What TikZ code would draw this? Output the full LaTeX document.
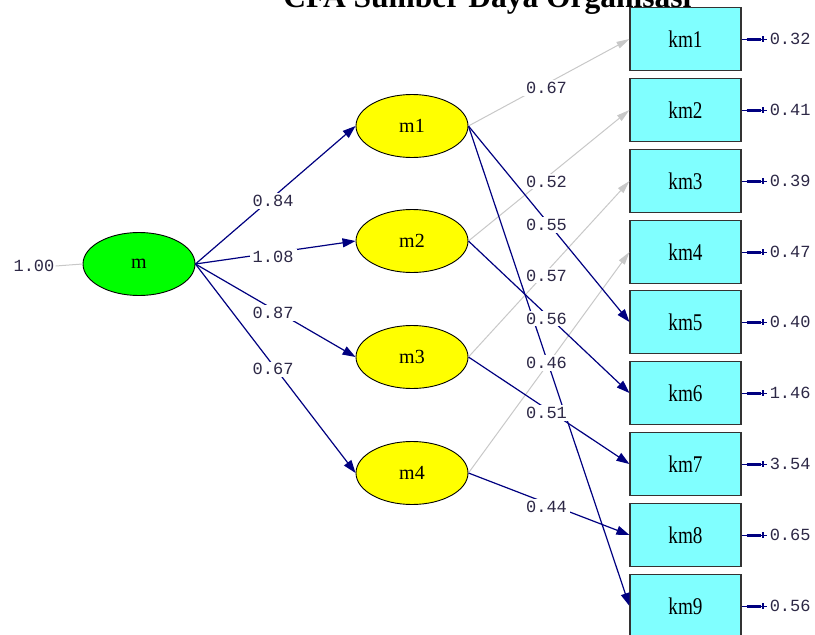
\documentclass[tikz,border=0pt]{standalone}
\usepackage{fontspec}
\setmainfont{Liberation Serif}
\newfontfamily\monof{Liberation Mono}
\newfontfamily\boxf[FakeStretch=0.8]{Liberation Serif}
\usetikzlibrary{arrows.meta,shapes.geometric}
\definecolor{navy}{RGB}{0,0,128}
\definecolor{lgray}{RGB}{200,200,200}
\definecolor{cyanbox}{RGB}{128,255,255}
\definecolor{yel}{RGB}{255,255,0}
\definecolor{grn}{RGB}{0,255,0}
\definecolor{numc}{RGB}{45,40,70}
\begin{document}
\begin{tikzpicture}[x=1pt,y=-1pt,
  lat/.style={ellipse, draw=black, line width=0.9pt, minimum width=112pt, minimum height=63pt, inner sep=0pt, font=\fontsize{20}{20}\selectfont},
  obs/.style={rectangle, draw=black!80, line width=1.1pt, fill=cyanbox, minimum width=111pt, minimum height=63pt, inner sep=0pt, font=\boxf\fontsize{24}{24}\selectfont},
  num/.style={font=\monof\fontsize{17}{17}\selectfont, text=numc, inner sep=1pt},
  lab/.style={num, fill=white, inner xsep=3pt, inner ysep=2pt, yshift=-4pt},
  pth/.style={navy, line width=1.2pt, -{Triangle[length=13pt,width=9pt]}},
  gpth/.style={lgray, line width=1pt, -{Triangle[length=13pt,width=7pt]}},
  errl/.style={navy, line width=1pt},
]
\useasboundingbox (0,0) rectangle (815,635);

% title (cut at top, as in the reference)
\node[font=\bfseries\fontsize{31.5}{31.5}\selectfont, anchor=base, inner sep=0pt] (title) at (487.5,7) {CFA Sumber Daya Organisasi};

% latent variables
\node[lat, fill=grn] (m) at (139,264) {m};
\node[lat, fill=yel] (m1) at (412,126) {m1};
\node[lat, fill=yel] (m2) at (412,241) {m2};
\node[lat, fill=yel] (m3) at (412,357) {m3};
\node[lat, fill=yel] (m4) at (412,473) {m4};

% observed variables
\foreach \i/\y in {1/39,2/110,3/181,4/252,5/322,6/393,7/464,8/535,9/606}{
  \node[obs] (km\i) at (685.5,\y) {km\i};
}

% variance of m
\node[num] (one) at (34,266) {1.00};
\draw[lgray, line width=1pt] (one.east) -- (m.west);

% paths m -> mi
\draw[pth] (m.east) -- coordinate[pos=0.485] (a1) (m1.west);
\draw[pth] (m.east) -- coordinate[pos=0.485] (a2) (m2.west);
\draw[pth] (m.east) -- coordinate[pos=0.485] (a3) (m3.west);
\draw[pth] (m.east) -- coordinate[pos=0.485] (a4) (m4.west);

% loadings
\draw[gpth] (m1.east) -- coordinate[pos=0.485] (b1) (km1.west);
\draw[gpth] (m2.east) -- coordinate[pos=0.485] (b2) (km2.west);
\draw[gpth] (m3.east) -- coordinate[pos=0.485] (b3) (km3.west);
\draw[gpth] (m4.east) -- (km4.west);
\draw[pth] (m1.east) -- coordinate[pos=0.485] (b5) (km5.west);
\draw[pth] (m2.east) -- coordinate[pos=0.485] (b6) (km6.west);
\draw[pth] (m3.east) -- coordinate[pos=0.485] (b7) (km7.west);
\draw[pth] (m4.east) -- coordinate[pos=0.485] (b8) (km8.west);
\draw[pth] (m1.east) -- coordinate[pos=0.485] (b9) (km9.west);

% labels
\node[lab] (la1) at (a1) {0.84};
\node[lab] (la2) at (a2) {1.08};
\node[lab] (la3) at (a3) {0.87};
\node[lab] (la4) at (a4) {0.67};
\node[lab] (lb1) at (b1) {0.67};
\node[lab] (lb2) at (b2) {0.52};
\node[lab] (lb3) at (b3) {0.57};
\node[lab] (lb5) at (b5) {0.55};
\node[lab] (lb6) at (b6) {0.56};
\node[lab] (lb7) at (b7) {0.51};
\node[lab] (lb8) at (b8) {0.44};
\node[lab] (lb9) at (b9) {0.46};

% error variances
\foreach \i/\v in {1/0.32,2/0.41,3/0.39,4/0.47,5/0.40,6/1.46,7/3.54,8/0.65,9/0.56}{
  \node[num, anchor=west] (e\i) at ([xshift=27pt]km\i.east) {\v};
  \draw[errl] (km\i.east) -- ([xshift=25pt]km\i.east);
  \draw[navy, line width=3pt] ([xshift=5pt]km\i.east) -- ([xshift=19pt]km\i.east);
  \draw[navy, line width=2pt] ([xshift=21pt,yshift=3pt]km\i.east) -- ([xshift=21pt,yshift=-3pt]km\i.east);
}
\end{tikzpicture}
\end{document}
